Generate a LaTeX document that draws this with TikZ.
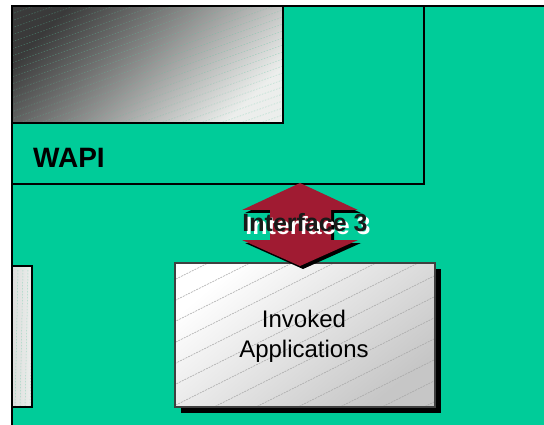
\documentclass[tikz,border=0pt]{standalone}
\usepackage{fontspec}
\setmainfont{Liberation Sans}
\usetikzlibrary{calc,shadows}
\definecolor{bggreen}{RGB}{0,204,153}
\definecolor{arrred}{RGB}{160,27,50}
\definecolor{darkg}{RGB}{58,58,58}
\definecolor{lightg}{RGB}{236,238,236}
\definecolor{hatchgreen}{RGB}{90,200,160}
\tikzset{
  outline/.style={draw=black, line width=1.5pt},
  boxnode/.style={anchor=north west, inner sep=0pt, outer sep=0pt},
  hatchline/.style={line width=0.5pt, dash pattern=on 1.5pt off 1.5pt},
}
\begin{document}
\begin{tikzpicture}[x=1pt,y=-1pt]
\useasboundingbox (0,0) rectangle (544,425);
% green field
\fill[bggreen] (12,6) rectangle (544,425);
\coordinate (fieldbl) at (12,425);
\coordinate (fieldtl) at (12,6);
\coordinate (fieldtr) at (544,6);
\draw[line width=1.5pt] (fieldbl) -- (fieldtl) -- (fieldtr);
% WAPI box
\node[boxnode, outline, minimum width=412pt, minimum height=178pt] (wapi) at (12,6) {};
% gray gradient box
\node[boxnode, minimum width=271pt, minimum height=117pt, top color=darkg, bottom color=lightg, shading angle=45] (shade) at (12,6) {};
\begin{scope}
  \clip (shade.north west) rectangle (shade.south east);
  \foreach \i in {-400,-380,...,300}
    \draw[hatchline, draw=hatchgreen, opacity=0.4] (\i,130) -- ++(400,-140);
\end{scope}
\draw[line width=1.5pt] (shade.north west) rectangle (shade.south east);
\node[anchor=base west, font=\fontsize{28}{32}\selectfont\bfseries, inner sep=0pt] (wapilabel) at (33,168) {WAPI};
% left small box
\node[boxnode, minimum width=20pt, minimum height=141pt, left color=lightg!85!gray, right color=lightg] (side) at (12,266) {};
\begin{scope}
  \clip (side.north west) rectangle (side.south east);
  \foreach \i in {8,13,...,40}
    \draw[hatchline, draw=hatchgreen, opacity=0.5] (\i,270) -- ++(-3,140);
\end{scope}
\draw[line width=1.5pt] (side.north west) rectangle (side.south east);
% invoked applications box
\node[boxnode, minimum width=260pt, minimum height=144pt, top color=white, bottom color=gray!45, shading angle=40,
      drop shadow={shadow xshift=6pt, shadow yshift=-6pt, opacity=1, fill=black}] (inv) at (175,263) {};
\begin{scope}
  \clip (inv.north west) rectangle (inv.south east);
  \foreach \i in {-400,-358,...,500}
    \draw[line width=0.5pt, draw=gray!70, dash pattern=on 2pt off 1pt] (\i,420) -- ++(400,-200);
\end{scope}
\draw[line width=1.2pt, draw=black!75] (inv.north west) rectangle (inv.south east);
\node[anchor=base, align=center, font=\fontsize{24}{30}\selectfont, inner sep=0pt] (invlabel) at (304,357) {Invoked\\Applications};
% double arrow (interface 3)
\coordinate (at) at (300,183);
\coordinate (ab) at (300,266);
\fill[black] ($(at)+(3,3)$) -- ++(58,27) -- ++(-27,0) -- ++(0,30) -- ++(27,0) -- ($(ab)+(3,3)$) -- ++(-58,-26) -- ++(28,0) -- ++(0,-30) -- ++(-28,0) -- cycle;
\fill[arrred] (at) -- ++(58,27) -- ++(-27,0) -- ++(0,30) -- ++(27,0) -- (ab) -- ++(-58,-26) -- ++(28,0) -- ++(0,-30) -- ++(-28,0) -- cycle;
\node[anchor=base, font=\fontsize{25}{30}\selectfont\bfseries, text=white, inner sep=0pt] (iflabel) at (308,235) {Interface 3};
\node[anchor=base, font=\fontsize{25}{30}\selectfont\bfseries, text=black!90, inner sep=0pt] (ifshadow) at (305,232) {Interface 3};
\end{tikzpicture}
\end{document}
